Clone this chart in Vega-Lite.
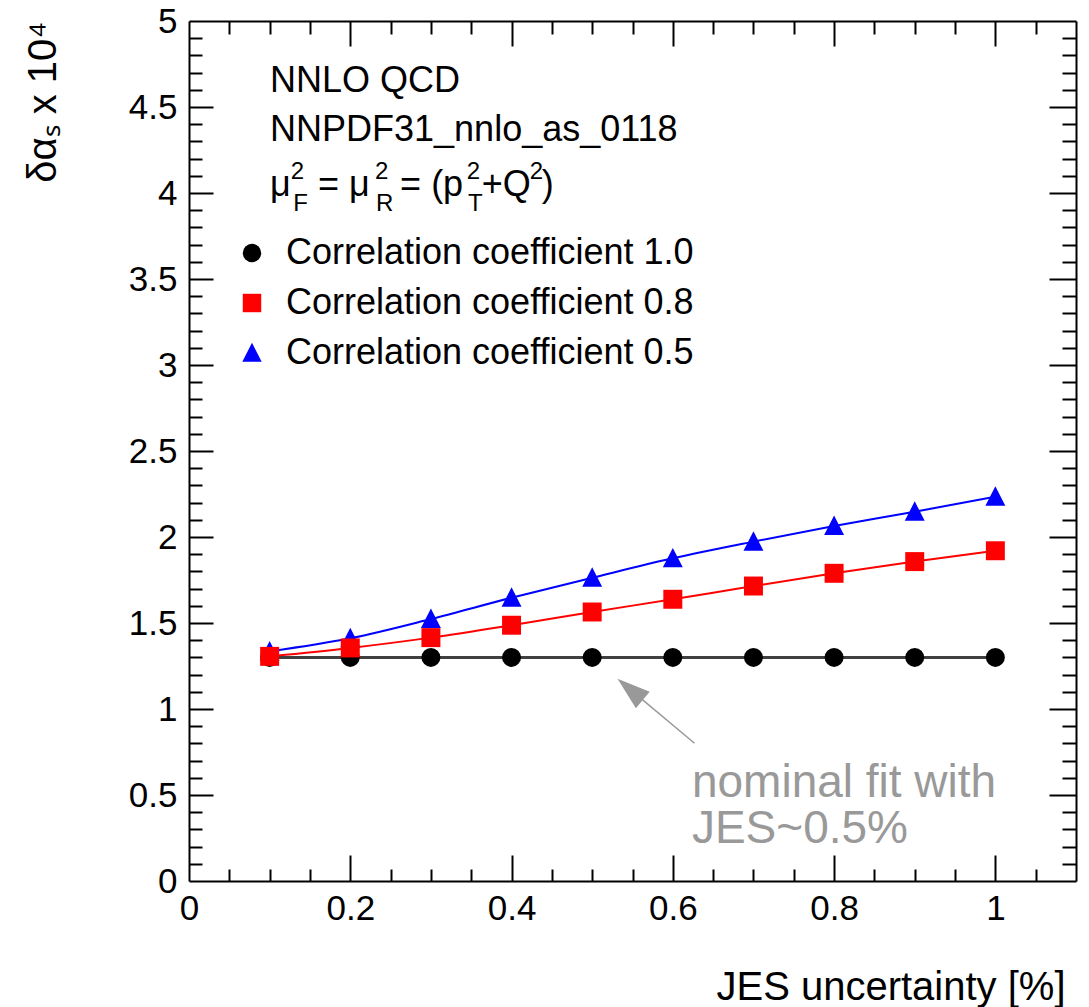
{
  "$schema": "https://vega.github.io/schema/vega-lite/v6.json",
  "width": 887,
  "height": 860,
  "autosize": {"type": "none"},
  "padding": {"left": 189, "top": 21, "right": 13, "bottom": 126},
  "background": "white",
  "config": {
    "view": {"stroke": null},
    "axis": {
      "grid": false,
      "domainColor": "black",
      "domainWidth": 2,
      "tickColor": "black",
      "tickWidth": 2,
      "labelColor": "black",
      "titleColor": "black",
      "labelFont": "Liberation Sans",
      "titleFont": "Liberation Sans",
      "labelFontSize": 35,
      "titleFontSize": 40,
      "titleFontWeight": "normal",
      "labelFlush": false,
      "labelOverlap": false
    },
    "legend": {
      "labelFont": "Liberation Sans",
      "labelFontSize": 36,
      "labelColor": "black",
      "labelLimit": 1000,
      "symbolSize": 340,
      "symbolStrokeWidth": 0,
      "symbolOpacity": 1
    }
  },
  "datasets": {
    "pts": [
      {"series": "Correlation coefficient 1.0", "x": 0.1, "y": 1.3},
      {"series": "Correlation coefficient 1.0", "x": 0.2, "y": 1.3},
      {"series": "Correlation coefficient 1.0", "x": 0.3, "y": 1.3},
      {"series": "Correlation coefficient 1.0", "x": 0.4, "y": 1.3},
      {"series": "Correlation coefficient 1.0", "x": 0.5, "y": 1.3},
      {"series": "Correlation coefficient 1.0", "x": 0.6, "y": 1.3},
      {"series": "Correlation coefficient 1.0", "x": 0.7, "y": 1.3},
      {"series": "Correlation coefficient 1.0", "x": 0.8, "y": 1.3},
      {"series": "Correlation coefficient 1.0", "x": 0.9, "y": 1.3},
      {"series": "Correlation coefficient 1.0", "x": 1.0, "y": 1.3},
      {"series": "Correlation coefficient 0.5", "x": 0.1, "y": 1.335},
      {"series": "Correlation coefficient 0.5", "x": 0.2, "y": 1.411},
      {"series": "Correlation coefficient 0.5", "x": 0.3, "y": 1.523},
      {"series": "Correlation coefficient 0.5", "x": 0.4, "y": 1.647},
      {"series": "Correlation coefficient 0.5", "x": 0.5, "y": 1.763},
      {"series": "Correlation coefficient 0.5", "x": 0.6, "y": 1.876},
      {"series": "Correlation coefficient 0.5", "x": 0.7, "y": 1.973},
      {"series": "Correlation coefficient 0.5", "x": 0.8, "y": 2.064},
      {"series": "Correlation coefficient 0.5", "x": 0.9, "y": 2.147},
      {"series": "Correlation coefficient 0.5", "x": 1.0, "y": 2.234},
      {"series": "Correlation coefficient 0.8", "x": 0.1, "y": 1.306},
      {"series": "Correlation coefficient 0.8", "x": 0.2, "y": 1.355},
      {"series": "Correlation coefficient 0.8", "x": 0.3, "y": 1.415},
      {"series": "Correlation coefficient 0.8", "x": 0.4, "y": 1.487},
      {"series": "Correlation coefficient 0.8", "x": 0.5, "y": 1.564},
      {"series": "Correlation coefficient 0.8", "x": 0.6, "y": 1.638},
      {"series": "Correlation coefficient 0.8", "x": 0.7, "y": 1.715},
      {"series": "Correlation coefficient 0.8", "x": 0.8, "y": 1.789},
      {"series": "Correlation coefficient 0.8", "x": 0.9, "y": 1.857},
      {"series": "Correlation coefficient 0.8", "x": 1.0, "y": 1.92}
    ],
    "notes": [
      {"kind": "main", "x": 0.1005, "y": 4.586, "text": "NNLO QCD"},
      {"kind": "main", "x": 0.1005, "y": 4.301, "text": "NNPDF31_nnlo_as_0118"},
      {"kind": "main", "x": 0.1005, "y": 3.985, "text": "μ"},
      {"kind": "main", "x": 0.160, "y": 3.985, "text": "= μ"},
      {"kind": "main", "x": 0.2618, "y": 3.985, "text": "= (p"},
      {"kind": "main", "x": 0.3631, "y": 3.985, "text": "+Q"},
      {"kind": "main", "x": 0.4375, "y": 3.985, "text": ")"},
      {"kind": "script", "x": 0.1262, "y": 4.083, "text": "2"},
      {"kind": "script", "x": 0.1294, "y": 3.898, "text": "F"},
      {"kind": "script", "x": 0.2308, "y": 4.083, "text": "2"},
      {"kind": "script", "x": 0.232, "y": 3.898, "text": "R"},
      {"kind": "script", "x": 0.3445, "y": 4.083, "text": "2"},
      {"kind": "script", "x": 0.346, "y": 3.898, "text": "T"},
      {"kind": "script", "x": 0.4225, "y": 4.083, "text": "2"},
      {"kind": "gray", "x": 0.6237, "y": 0.487, "text": "nominal fit with"},
      {"kind": "gray", "x": 0.6237, "y": 0.22, "text": "JES~0.5%"}
    ],
    "arrow": [
      {"x": 0.6269, "y": 0.801, "x2": 0.5471, "y2": 1.1145}
    ]
  },
  "layer": [
    {
      "data": {"name": "pts"},
      "mark": {"type": "point", "opacity": 0},
      "encoding": {
        "x": {"field": "x", "type": "quantitative", "scale": {"domain": [0, 1.1], "nice": false, "zero": false},
          "axis": {"orient": "bottom", "values": [0, 0.2, 0.4, 0.6, 0.8, 1], "format": "~g", "ticks": false, "domain": true, "labelPadding": 10,
            "title": "JES uncertainty [%]", "titleAnchor": "end", "titleAlign": "right", "titleBaseline": "alphabetic", "titleX": 876, "titleY": 118}},
        "y": {"field": "y", "type": "quantitative", "scale": {"domain": [0, 5], "nice": false, "zero": false},
          "axis": {"orient": "left", "values": [0, 0.5, 1, 1.5, 2, 2.5, 3, 3.5, 4, 4.5, 5], "format": "~g", "ticks": false, "domain": true, "labelPadding": 12,
            "title": "δαₛ x 10⁴", "titleAngle": -90, "titleAnchor": "end", "titleAlign": "right", "titleBaseline": "alphabetic", "titleX": -134, "titleY": 0}}
      }
    },
    {
      "data": {"name": "pts"},
      "mark": {"type": "point", "opacity": 0},
      "encoding": {
        "x": {"field": "x", "type": "quantitative", "scale": {"domain": [0, 1.1], "nice": false, "zero": false},
          "axis": {"orient": "bottom", "values": [0.2, 0.4, 0.6, 0.8, 1], "labels": false, "domain": false, "tickSize": -26, "title": null}},
        "y": {"field": "y", "type": "quantitative", "scale": {"domain": [0, 5], "nice": false, "zero": false},
          "axis": {"orient": "left", "values": [0.5, 1, 1.5, 2, 2.5, 3, 3.5, 4, 4.5], "labels": false, "domain": false, "tickSize": -24, "title": null}}
      }
    },
    {
      "data": {"name": "pts"},
      "mark": {"type": "point", "opacity": 0},
      "encoding": {
        "x": {"field": "x", "type": "quantitative", "scale": {"domain": [0, 1.1], "nice": false, "zero": false},
          "axis": {"orient": "bottom", "values": [0.05, 0.1, 0.15, 0.25, 0.3, 0.35, 0.45, 0.5, 0.55, 0.65, 0.7, 0.75, 0.85, 0.9, 0.95, 1.05], "labels": false, "domain": false, "tickSize": -12, "title": null}},
        "y": {"field": "y", "type": "quantitative", "scale": {"domain": [0, 5], "nice": false, "zero": false},
          "axis": {"orient": "left", "values": [0.1, 0.2, 0.3, 0.4, 0.6, 0.7, 0.8, 0.9, 1.1, 1.2, 1.3, 1.4, 1.6, 1.7, 1.8, 1.9, 2.1, 2.2, 2.3, 2.4, 2.6, 2.7, 2.8, 2.9, 3.1, 3.2, 3.3, 3.4, 3.6, 3.7, 3.8, 3.9, 4.1, 4.2, 4.3, 4.4, 4.6, 4.7, 4.8, 4.9], "labels": false, "domain": false, "tickSize": -13, "title": null}}
      }
    },
    {
      "data": {"name": "pts"},
      "mark": {"type": "point", "opacity": 0},
      "encoding": {
        "x": {"field": "x", "type": "quantitative", "scale": {"domain": [0, 1.1], "nice": false, "zero": false},
          "axis": {"orient": "top", "values": [0.2, 0.4, 0.6, 0.8, 1], "labels": false, "domain": true, "tickSize": -25, "title": null}},
        "y": {"field": "y", "type": "quantitative", "scale": {"domain": [0, 5], "nice": false, "zero": false},
          "axis": {"orient": "right", "values": [0.5, 1, 1.5, 2, 2.5, 3, 3.5, 4, 4.5], "labels": false, "domain": true, "tickSize": -27, "title": null}}
      }
    },
    {
      "data": {"name": "pts"},
      "mark": {"type": "point", "opacity": 0},
      "encoding": {
        "x": {"field": "x", "type": "quantitative", "scale": {"domain": [0, 1.1], "nice": false, "zero": false},
          "axis": {"orient": "top", "values": [0.05, 0.1, 0.15, 0.25, 0.3, 0.35, 0.45, 0.5, 0.55, 0.65, 0.7, 0.75, 0.85, 0.9, 0.95, 1.05], "labels": false, "domain": false, "tickSize": -13, "title": null}},
        "y": {"field": "y", "type": "quantitative", "scale": {"domain": [0, 5], "nice": false, "zero": false},
          "axis": {"orient": "right", "values": [0.1, 0.2, 0.3, 0.4, 0.6, 0.7, 0.8, 0.9, 1.1, 1.2, 1.3, 1.4, 1.6, 1.7, 1.8, 1.9, 2.1, 2.2, 2.3, 2.4, 2.6, 2.7, 2.8, 2.9, 3.1, 3.2, 3.3, 3.4, 3.6, 3.7, 3.8, 3.9, 4.1, 4.2, 4.3, 4.4, 4.6, 4.7, 4.8, 4.9], "labels": false, "domain": false, "tickSize": -14, "title": null}}
      }
    },
    {
      "data": {"name": "pts"},
      "transform": [{"filter": "datum.series === 'Correlation coefficient 1.0'"}],
      "mark": {"type": "line", "color": "#404040", "strokeWidth": 3},
      "encoding": {
        "x": {"field": "x", "type": "quantitative", "scale": {"domain": [0, 1.1], "nice": false, "zero": false}, "axis": null},
        "y": {"field": "y", "type": "quantitative", "scale": {"domain": [0, 5], "nice": false, "zero": false}, "axis": null}
      }
    },
    {
      "data": {"name": "pts"},
      "transform": [{"filter": "datum.series === 'Correlation coefficient 0.5'"}],
      "mark": {"type": "line", "interpolate": "monotone", "color": "#0000ff", "strokeWidth": 2},
      "encoding": {
        "x": {"field": "x", "type": "quantitative", "scale": {"domain": [0, 1.1], "nice": false, "zero": false}, "axis": null},
        "y": {"field": "y", "type": "quantitative", "scale": {"domain": [0, 5], "nice": false, "zero": false}, "axis": null}
      }
    },
    {
      "data": {"name": "pts"},
      "transform": [{"filter": "datum.series === 'Correlation coefficient 0.8'"}],
      "mark": {"type": "line", "interpolate": "monotone", "color": "#ff0000", "strokeWidth": 2},
      "encoding": {
        "x": {"field": "x", "type": "quantitative", "scale": {"domain": [0, 1.1], "nice": false, "zero": false}, "axis": null},
        "y": {"field": "y", "type": "quantitative", "scale": {"domain": [0, 5], "nice": false, "zero": false}, "axis": null}
      }
    },
    {
      "data": {"name": "pts"},
      "mark": {"type": "point", "filled": true, "opacity": 1, "size": 360, "strokeWidth": 0},
      "encoding": {
        "x": {"field": "x", "type": "quantitative", "scale": {"domain": [0, 1.1], "nice": false, "zero": false}, "axis": null},
        "y": {"field": "y", "type": "quantitative", "scale": {"domain": [0, 5], "nice": false, "zero": false}, "axis": null},
        "color": {"field": "series", "type": "nominal",
          "scale": {"domain": ["Correlation coefficient 1.0", "Correlation coefficient 0.8", "Correlation coefficient 0.5"], "range": ["#000000", "#ff0000", "#0000ff"]},
          "legend": {"orient": "none", "legendX": 45, "legendY": 214, "title": null, "labelOffset": 16, "rowPadding": 14}},
        "shape": {"field": "series", "type": "nominal",
          "scale": {"domain": ["Correlation coefficient 1.0", "Correlation coefficient 0.8", "Correlation coefficient 0.5"], "range": ["circle", "square", "M0,-1.1L-1.05,0.95L1.05,0.95Z"]},
          "legend": {"orient": "none", "legendX": 45, "legendY": 214, "title": null, "labelOffset": 16, "rowPadding": 14}}
      }
    },
    {
      "data": {"name": "notes"},
      "transform": [{"filter": "datum.kind === 'main'"}],
      "mark": {"type": "text", "font": "Liberation Sans", "fontSize": 36, "align": "left", "baseline": "alphabetic", "color": "black"},
      "encoding": {
        "x": {"field": "x", "type": "quantitative", "scale": {"domain": [0, 1.1], "nice": false, "zero": false}, "axis": null},
        "y": {"field": "y", "type": "quantitative", "scale": {"domain": [0, 5], "nice": false, "zero": false}, "axis": null},
        "text": {"field": "text"}
      }
    },
    {
      "data": {"name": "notes"},
      "transform": [{"filter": "datum.kind === 'script'"}],
      "mark": {"type": "text", "font": "Liberation Sans", "fontSize": 24, "align": "left", "baseline": "alphabetic", "color": "black"},
      "encoding": {
        "x": {"field": "x", "type": "quantitative", "scale": {"domain": [0, 1.1], "nice": false, "zero": false}, "axis": null},
        "y": {"field": "y", "type": "quantitative", "scale": {"domain": [0, 5], "nice": false, "zero": false}, "axis": null},
        "text": {"field": "text"}
      }
    },
    {
      "data": {"name": "notes"},
      "transform": [{"filter": "datum.kind === 'gray'"}],
      "mark": {"type": "text", "font": "Liberation Sans", "fontSize": 46, "align": "left", "baseline": "alphabetic", "color": "#999999"},
      "encoding": {
        "x": {"field": "x", "type": "quantitative", "scale": {"domain": [0, 1.1], "nice": false, "zero": false}, "axis": null},
        "y": {"field": "y", "type": "quantitative", "scale": {"domain": [0, 5], "nice": false, "zero": false}, "axis": null},
        "text": {"field": "text"}
      }
    },
    {
      "data": {"name": "arrow"},
      "mark": {"type": "rule", "color": "#999999", "strokeWidth": 1.5},
      "encoding": {
        "x": {"field": "x", "type": "quantitative", "scale": {"domain": [0, 1.1], "nice": false, "zero": false}, "axis": null},
        "y": {"field": "y", "type": "quantitative", "scale": {"domain": [0, 5], "nice": false, "zero": false}, "axis": null},
        "x2": {"field": "x2"},
        "y2": {"field": "y2"}
      }
    },
    {
      "data": {"name": "arrow"},
      "mark": {"type": "point", "shape": "M0,-1L-0.65,1L0.65,1Z", "size": 1089, "angle": 310, "filled": true, "opacity": 1, "color": "#999999", "strokeWidth": 0},
      "encoding": {
        "x": {"field": "x2", "type": "quantitative", "scale": {"domain": [0, 1.1], "nice": false, "zero": false}, "axis": null},
        "y": {"field": "y2", "type": "quantitative", "scale": {"domain": [0, 5], "nice": false, "zero": false}, "axis": null}
      }
    }
  ],
  "resolve": {"axis": {"x": "independent", "y": "independent"}}
}
